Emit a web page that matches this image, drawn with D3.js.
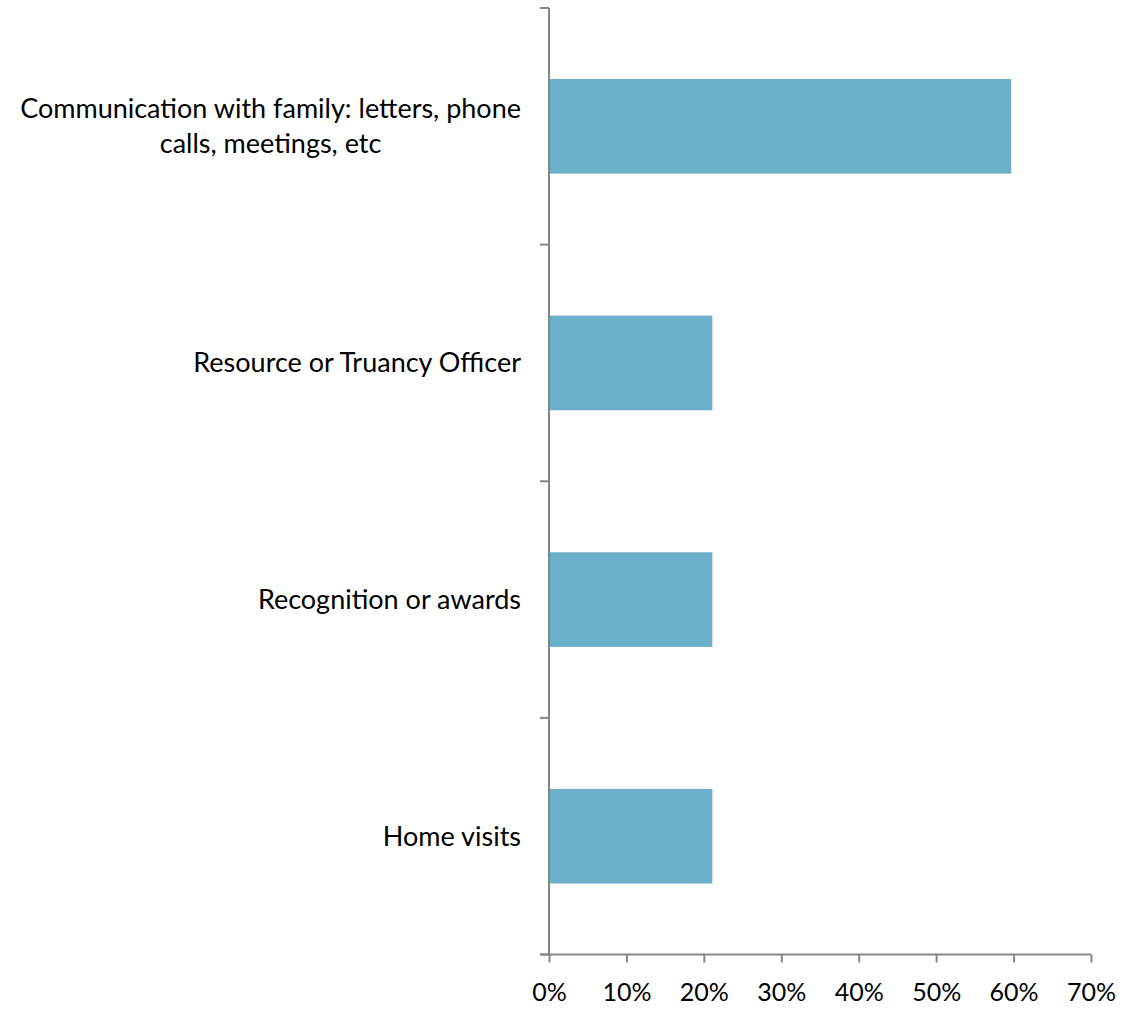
<!DOCTYPE html>
<html><head><meta charset="utf-8">
<script src="https://cdn.jsdelivr.net/npm/d3@7"></script>
<style>body{margin:0;background:#fff}svg{display:block}text{font-family:Lato,"Open Sans",sans-serif;fill:#000}</style>
</head><body><svg id="c" width="1122" height="1009"></svg>
<script>
const categories = ["Communication with family: letters, phone calls, meetings, etc","Resource or Truancy Officer","Recognition or awards","Home visits"];
const values = [59.7, 21.1, 21.1, 21.1];
const xTicks = [0,10,20,30,40,50,60,70];

const svg = d3.select("#c");
const pLeft = 549, pRight = 1091, pTop = 8, pBottom = 954.5;
const x = d3.scaleLinear().domain([0,70]).range([pLeft,pRight]);
const y = d3.scaleBand().domain(categories).range([pTop,pBottom]).paddingInner(0.6).paddingOuter(0.3);
const axisColor = "#868686";

svg.selectAll("rect.bar").data(categories).join("rect")
  .attr("x", x(0)).attr("y", d=>y(d))
  .attr("width", (d,i)=>x(values[i])-x(0)).attr("height", y.bandwidth())
  .attr("fill","#6BB0C8");

const bounds = d3.range(categories.length+1).map(i=>pTop + i*(pBottom-pTop)/categories.length);
svg.append("line").attr("x1",pLeft).attr("x2",pLeft).attr("y1",pTop).attr("y2",pBottom).attr("stroke",axisColor).attr("stroke-width",2);
svg.selectAll("line.yt").data(bounds).join("line").attr("x1",pLeft-9).attr("x2",pLeft).attr("y1",d=>d).attr("y2",d=>d).attr("stroke",axisColor).attr("stroke-width",2);

const xa = svg.append("g").attr("transform",`translate(0,${pBottom})`)
  .call(d3.axisBottom(x).tickValues(xTicks).tickFormat(d=>d+"%").tickSize(8).tickSizeOuter(0));
xa.select(".domain").attr("stroke",axisColor).attr("stroke-width",2).attr("d",`M${pLeft-9},0H${pRight}`);
xa.selectAll(".tick line").attr("stroke",axisColor).attr("stroke-width",2);
xa.selectAll(".tick text").attr("font-size",25).attr("font-family","Lato, sans-serif").attr("fill","#000").attr("dy",0).attr("y",46);

const fs = 27, lh = 35, maxW = 520;
categories.forEach(c=>{
  const t = svg.append("text").attr("text-anchor","middle").attr("font-size",fs);
  const words = c.split(" ");
  let lines = [], cur = [];
  const tmp = svg.append("text").attr("font-size",fs);
  words.forEach(w=>{
    const test = cur.concat([w]).join(" ");
    tmp.text(test);
    if (tmp.node().getComputedTextLength() > maxW && cur.length){ lines.push(cur.join(" ")); cur=[w]; }
    else cur.push(w);
  });
  lines.push(cur.join(" "));
  const wmax = d3.max(lines, l=>{tmp.text(l); return tmp.node().getComputedTextLength();});
  tmp.remove();
  const cx = 521 - wmax/2;
  const cy = y(c) + y.bandwidth()/2;
  const y0 = cy - (lines.length-1)*lh/2;
  if (lines.length===1) t.attr("text-anchor","end");
  lines.forEach((l,i)=>{
    t.append("tspan").attr("x", lines.length===1?521:cx).attr("y", y0+i*lh).attr("dy","0.35em").text(l);
  });
});
</script></body></html>
